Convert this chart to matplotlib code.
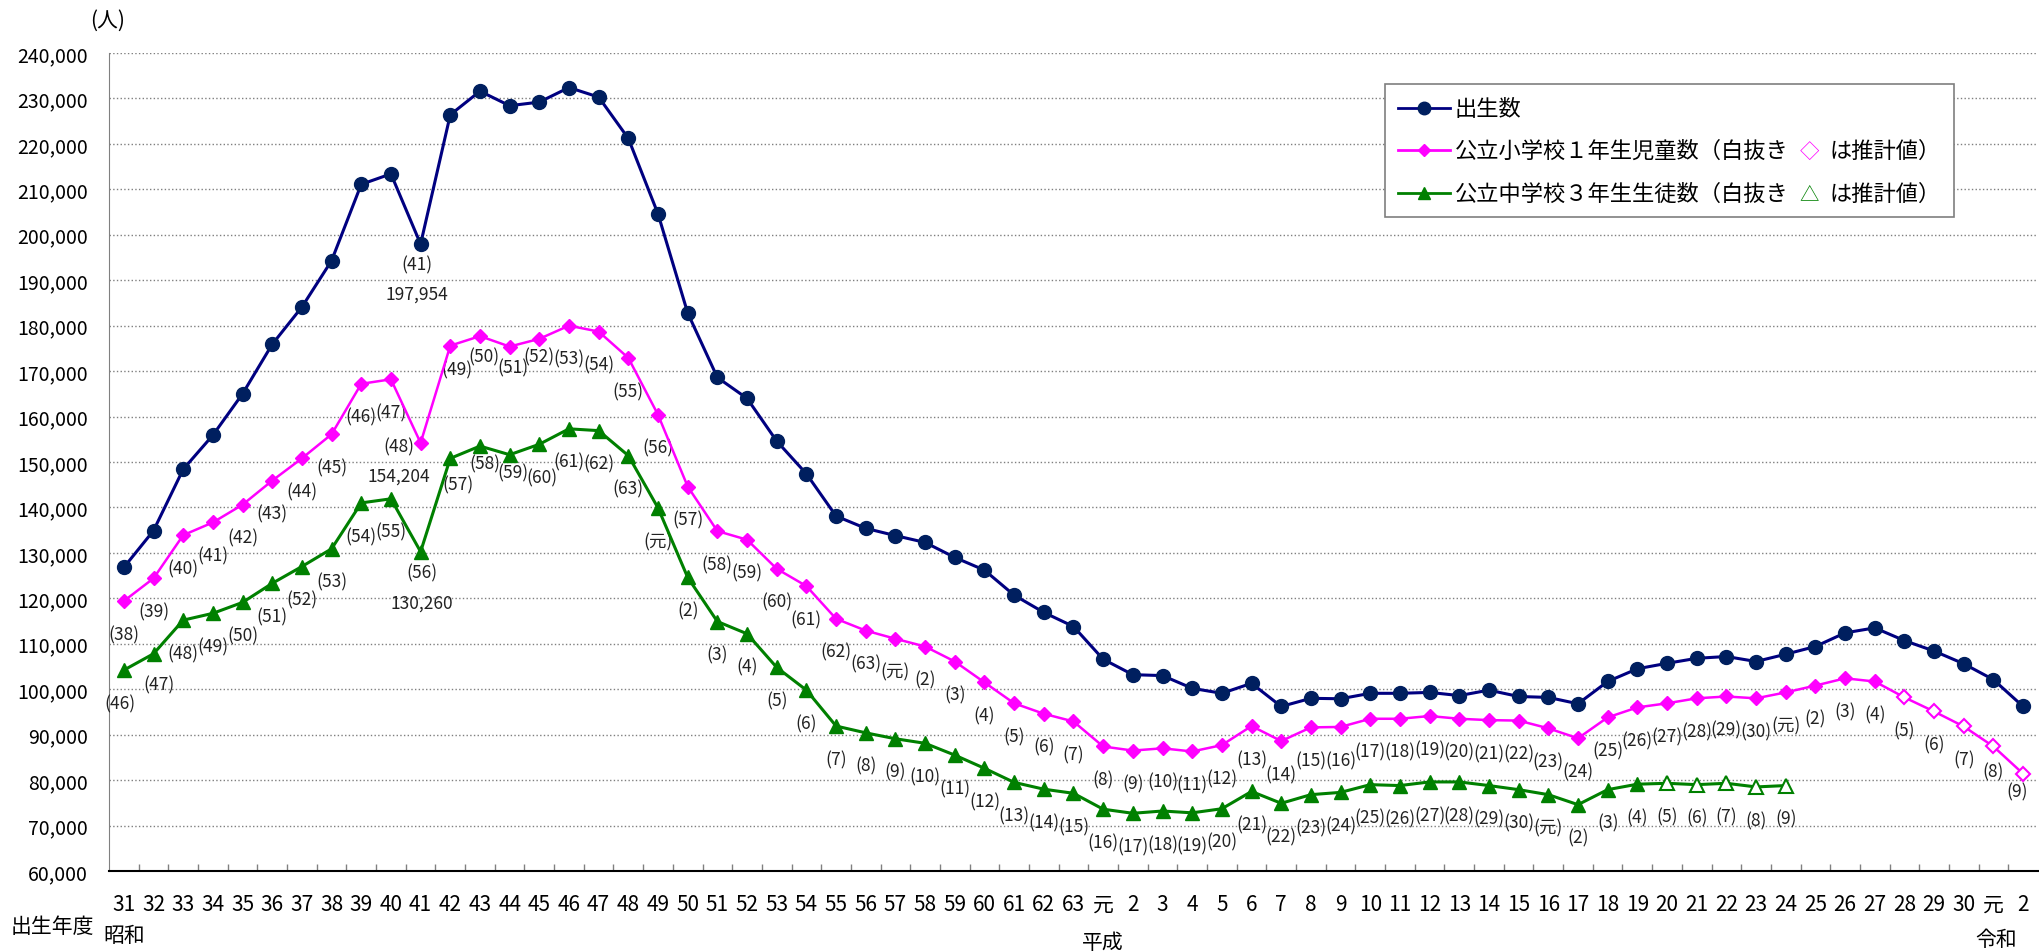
import matplotlib
matplotlib.use('Agg')
import matplotlib.pyplot as plt
import numpy as np
from matplotlib.ticker import FuncFormatter, MultipleLocator, FixedLocator
from matplotlib.offsetbox import AnchoredOffsetbox, HPacker, VPacker, TextArea, DrawingArea
from matplotlib.lines import Line2D
from matplotlib.transforms import blended_transform_factory

plt.rcParams['font.family'] = ['Noto Sans CJK JP', 'DejaVu Sans']

# 出生年度（昭和31～令和2）
showa = [str(y) for y in range(31, 64)]
heisei = ['元'] + [str(y) for y in range(2, 31)]
reiwa = ['元', '2']
years = showa + heisei + reiwa
# 括弧内の年度表示用（令和9まで）
label_years = showa + heisei + ['元'] + [str(y) for y in range(2, 10)]

births = [126800, 134900, 148400, 155900, 165000, 175900, 184100, 194300, 211100, 213400,
          197954, 226400, 231600, 228400, 229200, 232400, 230300, 221200, 204600, 182800,
          168600, 164000, 154600, 147400, 138100, 135400, 133800, 132300, 129000, 126200,
          120700, 116900, 113800, 106600, 103200, 103000, 100200, 99100, 101300, 96200,
          98000, 97900, 99100, 99100, 99300, 98600, 99800, 98400, 98200, 96800,
          101700, 104500, 105700, 106800, 107200, 106100, 107700, 109400, 112400, 113500,
          110700, 108400, 105600, 102100, 96200]

elem = [119400, 124400, 133900, 136700, 140600, 145900, 150800, 156100, 167200, 168200,
        154204, 175600, 177700, 175400, 177100, 180000, 178700, 172900, 160400, 144600,
        134800, 132900, 126500, 122700, 115500, 112900, 111100, 109400, 106100, 101500,
        96900, 94600, 92900, 87400, 86500, 87000, 86300, 87700, 91900, 88600,
        91600, 91700, 93500, 93500, 94100, 93500, 93200, 93100, 91400, 89200,
        93800, 96000, 96900, 98000, 98400, 98000, 99300, 100800, 102400, 101700,
        98200, 95100, 91800, 87400, 81400]
elem_est_from = 60   # 平成28年度生まれ以降は推計値

junior = [104200, 107800, 115200, 116700, 119100, 123300, 127000, 130900, 141000, 141900,
          130260, 150800, 153500, 151600, 153900, 157300, 156900, 151400, 139900, 124600,
          114900, 112200, 104800, 99800, 91900, 90400, 89100, 88100, 85500, 82600,
          79500, 78000, 77100, 73600, 72700, 73200, 72800, 73700, 77500, 74900,
          76800, 77300, 79000, 78800, 79600, 79600, 78800, 77900, 76800, 74600,
          77900, 79100, 79300, 79000, 79300, 78500, 78800]
junior_est_from = 52  # 平成20年度生まれ以降は推計値

navy = '#000080'
navy_dark = '#001f5f'
pink = '#ff00ff'
green = '#008000'

fig = plt.figure(figsize=(20.4, 9.53), dpi=100)
ax = fig.add_axes([109 / 2040, 1 - 872 / 953, 1 - 109 / 2040 - 0.001, (872 - 54) / 953])

x = np.arange(len(years))
xe = np.arange(len(elem))
xj = np.arange(len(junior))

# 出生数
ax.plot(x, births, color=navy, lw=2.2, marker='o', ms=10, mfc=navy_dark, mec=navy_dark, zorder=5)

# 小学校1年生
ax.plot(xe, elem, color=pink, lw=1.8, zorder=4)
ax.plot(xe[:elem_est_from], elem[:elem_est_from], ls='none', marker='D', ms=7,
        mfc=pink, mec=pink, zorder=5)
ax.plot(xe[elem_est_from:], elem[elem_est_from:], ls='none', marker='D', ms=7,
        mfc='white', mec=pink, mew=1.5, zorder=5)

# 中学校3年生
ax.plot(xj, junior, color=green, lw=2.2, zorder=4)
ax.plot(xj[:junior_est_from], junior[:junior_est_from], ls='none', marker='^', ms=10,
        mfc=green, mec=green, zorder=5)
ax.plot(xj[junior_est_from:], junior[junior_est_from:], ls='none', marker='^', ms=10,
        mfc='white', mec=green, mew=1.5, zorder=5)

# データラベル（画素単位のずれ、下向き正）
lab_kw = dict(textcoords='offset pixels', ha='center', va='center', fontsize=12.5, color='#222222')
el_off = {10: (-22, 3), 11: (7, 24), 12: (4, 20), 13: (3, 21), 14: (0, 18), 63: (0, 25), 64: (-6, 18)}
jh_off = {0: (-4, 33), 1: (5, 31), 10: (1, 21), 11: (8, 26), 12: (5, 17), 13: (3, 18), 14: (3, 33)}

for i, v in enumerate(elem):
    dx, dy = el_off.get(i, (0, 33))
    ax.annotate('(' + label_years[i + 7] + ')', (i, v), xytext=(dx, -dy), **lab_kw)
for i, v in enumerate(junior):
    dx, dy = jh_off.get(i, (0, 33))
    ax.annotate('(' + label_years[i + 15] + ')', (i, v), xytext=(dx, -dy), **lab_kw)

ax.annotate('(41)', (10, births[10]), xytext=(-4, -20), **lab_kw)
ax.annotate(f'{births[10]:,}', (10, births[10]), xytext=(-4, -50), **lab_kw)
ax.annotate(f'{elem[10]:,}', (10, elem[10]), xytext=(-22, -33), **lab_kw)
ax.annotate(f'{junior[10]:,}', (10, junior[10]), xytext=(1, -51), **lab_kw)

# 軸
ax.set_xlim(-0.5, len(years) - 0.5)
ax.set_ylim(60000, 240000)
ax.yaxis.set_major_locator(MultipleLocator(10000))
ax.yaxis.set_major_formatter(FuncFormatter(lambda v, p: f'{v:,.0f}'))
ax.tick_params(axis='y', length=0, pad=15, labelsize=14)
ax.yaxis.grid(True, ls=':', color='#7f7f7f', lw=1)
ax.set_axisbelow(True)

ax.set_xticks(x)
ax.set_xticklabels(years)
ax.tick_params(axis='x', which='major', length=0, pad=16, labelsize=15)
ax.xaxis.set_minor_locator(FixedLocator(np.arange(0.5, len(years) - 1, 1)))
ax.tick_params(axis='x', which='minor', direction='in', length=5, color='#808080', width=1)

for s in ['top', 'right']:
    ax.spines[s].set_visible(False)
ax.spines['left'].set_color('#808080')
ax.spines['bottom'].set_color('black')
ax.spines['bottom'].set_linewidth(1.5)

# 元号・単位
tr = blended_transform_factory(ax.transData, fig.transFigure)
ax.text(0, 1 - 936 / 953, '昭和', transform=tr, ha='center', va='center', fontsize=15)
ax.text(33, 1 - 943 / 953, '平成', transform=tr, ha='center', va='center', fontsize=15)
ax.text(63.1, 1 - 940 / 953, '令和', transform=tr, ha='center', va='center', fontsize=15)
fig.text(52 / 2040, 1 - 927 / 953, '出生年度', ha='center', va='center', fontsize=15)
fig.text(108 / 2040, 1 - 21 / 953, '(人)', ha='center', va='center', fontsize=15)

# 凡例
tp = dict(fontsize=16, color='black')


def handle(color, marker, ms):
    da = DrawingArea(38, 14, 0, 0)
    da.add_artist(Line2D([0, 38], [7, 7], color=color, lw=2))
    mfc = navy_dark if marker == 'o' else color
    da.add_artist(Line2D([19], [7], ls='none', marker=marker, ms=ms, mfc=mfc, mec=mfc))
    return da


row1 = HPacker(children=[handle(navy, 'o', 9), TextArea('出生数', textprops=tp)],
               sep=3, align='center', pad=0)
row2 = HPacker(children=[handle(pink, 'D', 6),
                         HPacker(children=[TextArea('公立小学校１年生児童数（白抜き', textprops=tp),
                                           TextArea('◇', textprops=dict(tp, color=pink, fontsize=14)),
                                           TextArea('は推計値）', textprops=tp)],
                                 sep=8, align='baseline', pad=0)],
               sep=3, align='center', pad=0)
row3 = HPacker(children=[handle(green, '^', 9),
                         HPacker(children=[TextArea('公立中学校３年生生徒数（白抜き', textprops=tp),
                                           TextArea('△', textprops=dict(tp, color=green, fontsize=14)),
                                           TextArea('は推計値）', textprops=tp)],
                                 sep=8, align='baseline', pad=0)],
               sep=3, align='center', pad=0)
box = VPacker(children=[row1, row2, row3], sep=14, align='left', pad=0)
ab = AnchoredOffsetbox(loc='upper left', child=box, pad=0.6, borderpad=0, frameon=True,
                       prop=dict(size=15), bbox_to_anchor=(1385 / 2040, 1 - 85 / 953),
                       bbox_transform=fig.transFigure)
ab.patch.set_boxstyle('square', pad=0)
ab.patch.set_edgecolor('#7f7f7f')
ab.patch.set_linewidth(1.2)
ab.set_zorder(10)
ax.add_artist(ab)

fig.savefig('out.png', dpi=100)
